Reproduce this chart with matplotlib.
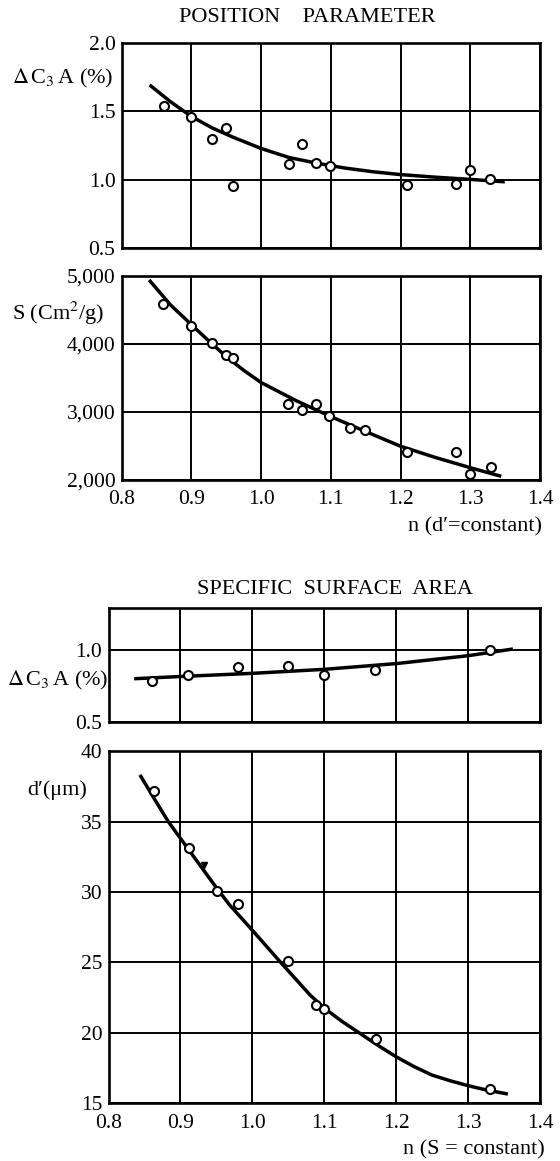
import matplotlib
matplotlib.use('Agg')
import matplotlib.pyplot as plt

plt.rcParams['font.family'] = ['Liberation Serif', 'DejaVu Serif']
plt.rcParams['mathtext.fontset'] = 'stix'

# --- position parameter: delta C3A vs n (d' constant)
pos_n = [0.861, 0.899, 0.929, 0.950, 0.960, 1.040, 1.059, 1.079, 1.099, 1.209, 1.279, 1.299, 1.328]
pos_dc3a = [1.54, 1.456, 1.298, 1.378, 0.956, 1.117, 1.259, 1.12, 1.10, 0.961, 0.971, 1.069, 1.007]
pos_curve_n = [0.842, 0.87, 0.90, 0.93, 0.96, 1.00, 1.04, 1.08, 1.12, 1.16, 1.20, 1.25, 1.30, 1.347]
pos_curve_dc3a = [1.685, 1.57, 1.462, 1.378, 1.31, 1.228, 1.162, 1.12, 1.085, 1.058, 1.037, 1.018, 1.002, 0.985]

# --- position parameter: S vs n
s_n = [0.859, 0.900, 0.930, 0.949, 0.959, 1.039, 1.059, 1.079, 1.098, 1.128, 1.149, 1.209, 1.279, 1.299, 1.330]
s_vals = [4585, 4259, 4005, 3829, 3795, 3117, 3029, 3112, 2941, 2766, 2727, 2405, 2410, 2083, 2195]
s_curve_n = [0.841, 0.87, 0.90, 0.925, 0.95, 0.975, 1.00, 1.05, 1.10, 1.15, 1.20, 1.25, 1.30, 1.342]
s_curve = [4917, 4570, 4280, 4040, 3810, 3610, 3430, 3165, 2930, 2710, 2495, 2330, 2180, 2060]

# --- specific surface area: delta C3A vs n (S constant)
ssa_n = [0.860, 0.910, 0.980, 1.049, 1.100, 1.170, 1.330]
ssa_dc3a = [0.786, 0.823, 0.884, 0.888, 0.823, 0.863, 1.0]
ssa_curve_n = [0.838, 0.90, 1.00, 1.10, 1.20, 1.30, 1.36]
ssa_curve_dc3a = [0.80, 0.815, 0.837, 0.865, 0.905, 0.96, 1.005]

# --- specific surface area: d' vs n
d_n = [0.863, 0.9115, 0.951, 0.980, 1.050, 1.089, 1.100, 1.172, 1.331]
d_vals = [37.2, 33.1, 30.1, 29.15, 25.07, 21.98, 21.7, 19.55, 15.99]
d_extra_n = [0.933]
d_extra = [31.9]
d_curve_n = [0.845, 0.865, 0.883, 0.90, 0.93, 0.95, 0.968, 1.00, 1.038, 1.08, 1.10, 1.125,
             1.15, 1.175, 1.20, 1.225, 1.25, 1.275, 1.30, 1.325, 1.353]
d_curve = [38.2, 36.5, 35.0, 33.8, 31.7, 30.3, 29.1, 27.28, 25.08, 22.7, 21.75, 20.8,
           19.95, 19.1, 18.3, 17.6, 17.0, 16.6, 16.25, 15.95, 15.68]

x_ticks = [0.8, 0.9, 1.0, 1.1, 1.2, 1.3, 1.4]
x_ticklabels = ['0.8', '0.9', '1.0', '1.1', '1.2', '1.3', '1.4']

FS_TICK = 15.5
FS = 16
H = 1161.0

fig = plt.figure(figsize=(5.6, 11.61), dpi=100)


def style(ax, yticks, ylabels, ylim, show_x):
    ax.set_xlim(0.8, 1.4)
    ax.set_ylim(*ylim)
    ax.set_xticks(x_ticks)
    ax.set_yticks(yticks)
    ax.set_yticklabels(ylabels, fontsize=FS_TICK)
    if show_x:
        ax.set_xticklabels(x_ticklabels, fontsize=FS_TICK)
    else:
        ax.set_xticklabels([])
    ax.tick_params(axis='y', length=0, pad=4.5)
    ax.tick_params(axis='x', length=0, pad=7.5)
    ax.grid(True, color='black', linewidth=1.4)
    for sp in ax.spines.values():
        sp.set_linewidth(1.9)


def points(ax, x, y):
    ax.plot(x, y, 'o', mfc='white', mec='black', ms=6.5, mew=1.5, zorder=4)


ax1 = fig.add_axes([0.2173, 0.7864, 0.747, 0.1766])
ax1.plot(pos_curve_n, pos_curve_dc3a, color='black', lw=2.5, zorder=3)
points(ax1, pos_n, pos_dc3a)
style(ax1, [0.5, 1.0, 1.5, 2.0], ['0.5', '1.0', '1.5', '2.0'], (0.5, 2.0), False)

ax2 = fig.add_axes([0.2173, 0.5866, 0.747, 0.176])
ax2.plot(s_curve_n, s_curve, color='black', lw=2.5, zorder=3)
points(ax2, s_n, s_vals)
style(ax2, [2000, 3000, 4000, 5000], ['2,000', '3,000', '4,000', '5,000'], (2000, 5000), True)

ax3 = fig.add_axes([0.1938, 0.3784, 0.7705, 0.0982])
ax3.plot(ssa_curve_n, ssa_curve_dc3a, color='black', lw=2.5, zorder=3)
points(ax3, ssa_n, ssa_dc3a)
style(ax3, [0.5, 1.0], ['0.5', '1.0'], (0.5, 1.295), False)

ax4 = fig.add_axes([0.1938, 0.0497, 0.7705, 0.3034])
ax4.plot(d_curve_n, d_curve, color='black', lw=2.5, zorder=3)
points(ax4, d_n, d_vals)
ax4.plot(d_extra_n, d_extra, 'v', color='black', ms=4, zorder=4)
style(ax4, [15, 20, 25, 30, 35, 40], ['15', '20', '25', '30', '35', '40'], (15, 40), True)

# titles and axis labels
fig.text(307 / 560, 1 - 17 / H, 'POSITION    PARAMETER', ha='center', va='center', fontsize=FS)
fig.text(335 / 560, 1 - 590 / H, 'SPECIFIC  SURFACE  AREA', ha='center', va='center', fontsize=FS)
fig.text(12.5 / 560, 1 - 78 / H, r'$\Delta\,$C$_3\,$A (%)', ha='left', va='center', fontsize=FS)
fig.text(12.5 / 560, 1 - 313 / H, r'S (Cm$^2$/g)', ha='left', va='center', fontsize=FS)
fig.text(7 / 560, 1 - 680 / H, r'$\Delta\,$C$_3\,$A (%)', ha='left', va='center', fontsize=FS)
fig.text(26.8 / 560, 1 - 790 / H, 'd\u2032(\u03bcm)', ha='left', va='center', fontsize=FS)
fig.text(541.7 / 560, 1 - 527 / H, 'n (d\u2032=constant)', ha='right', va='center', fontsize=FS)
fig.text(544.5 / 560, 1 - 1150 / H, 'n (S = constant)', ha='right', va='center', fontsize=FS)

fig.savefig('out.png', dpi=100)
